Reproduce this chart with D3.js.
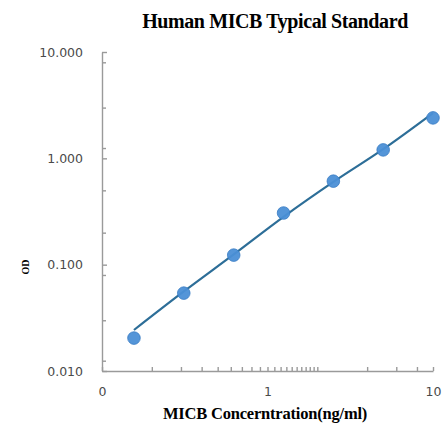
<!DOCTYPE html>
<html>
<head>
<meta charset="utf-8">
<script src="https://d3js.org/d3.v7.min.js"></script>
<style>
  body { margin: 0; background: #fff; }
  .tick text { font-family: "DejaVu Sans", sans-serif; font-size: 12.5px; fill: #4a4a4a; }
  .domain, .tick line { stroke: #9a9a9a; stroke-width: 1.4; }
</style>
</head>
<body>
<svg width="442" height="423"></svg>
<script>
// standard concentrations (ng/ml) and measured OD
var conc = [0.156, 0.312, 0.625, 1.25, 2.5, 5, 10];
var od = [0.0204, 0.054, 0.123, 0.306, 0.61, 1.2, 2.40];
// fitted curve
var fitConc = [0.156, 0.312, 0.625, 1.25, 2.5, 5, 10];
var fitOd = [0.0243, 0.056, 0.125, 0.282, 0.60, 1.22, 2.67];

var xTicks = [0.1, 1, 10];
var xTickLabels = ["0", "1", "10"];
var xMinor = [0.2, 0.3, 0.4, 0.5, 0.6, 0.7, 0.8, 0.9,
              1.1, 1.2, 1.3, 1.4, 1.5, 1.6, 1.7, 1.8, 1.9, 2, 4, 6, 8];
var yTicks = [0.01, 0.1, 1, 10];
var yTickLabels = ["0.010", "0.100", "1.000", "10.000"];
var yMinor = [8, 3, 1.25, 0.5, 0.2, 0.08, 0.03, 0.0125];

var svg = d3.select("svg");

var x = d3.scaleLog().domain([0.1, 10]).range([102, 433]);
var y = d3.scaleLog().domain([0.01, 10]).range([371, 52]);

// axes (ticks point inward)
svg.append("g")
    .attr("transform", "translate(0,371)")
    .call(d3.axisBottom(x).tickValues(xMinor).tickFormat("").tickSizeInner(-4).tickSizeOuter(0))
    .call(function(g){ g.select(".domain").remove(); });
svg.append("g")
    .attr("transform", "translate(0,371)")
    .call(d3.axisBottom(x).tickValues(xTicks)
        .tickFormat(function(d, i){ return xTickLabels[i]; })
        .tickSizeInner(-4).tickSizeOuter(0).tickPadding(16));

svg.append("g")
    .attr("transform", "translate(102,0)")
    .call(d3.axisLeft(y).tickValues(yMinor).tickFormat("").tickSizeInner(-4).tickSizeOuter(0))
    .call(function(g){ g.select(".domain").remove(); });
svg.append("g")
    .attr("transform", "translate(102,0)")
    .call(d3.axisLeft(y).tickValues(yTicks)
        .tickFormat(function(d, i){ return yTickLabels[i]; })
        .tickSizeInner(-5).tickSizeOuter(0).tickPadding(19));

// fitted curve
var line = d3.line()
    .x(function(d){ return x(d[0]); })
    .y(function(d){ return y(d[1]); })
    .curve(d3.curveMonotoneX);

svg.append("path")
    .datum(d3.zip(fitConc, fitOd))
    .attr("d", line)
    .attr("fill", "none")
    .attr("stroke", "#2d6e98")
    .attr("stroke-width", 2.2);

// standard points
svg.selectAll(".pt")
    .data(d3.zip(conc, od))
  .enter().append("circle")
    .attr("class", "pt")
    .attr("cx", function(d){ return x(d[0]); })
    .attr("cy", function(d){ return y(d[1]); })
    .attr("r", 6.3)
    .attr("fill", "#4b8fd6")
    .attr("fill-opacity", 0.95)
    .attr("stroke", "#3a7cc4")
    .attr("stroke-width", 0.8);

// titles
svg.append("text")
    .attr("x", 275).attr("y", 28)
    .attr("text-anchor", "middle")
    .style("font-family", "'Liberation Serif', serif")
    .style("font-weight", "bold")
    .style("font-size", "20px")
    .style("letter-spacing", "-0.4px")
    .text("Human MICB Typical Standard");

svg.append("text")
    .attr("x", 265).attr("y", 419)
    .attr("text-anchor", "middle")
    .style("font-family", "'Liberation Serif', serif")
    .style("font-weight", "bold")
    .style("font-size", "16.5px")
    .style("letter-spacing", "-0.2px")
    .text("MICB Concerntration(ng/ml)");

svg.append("text")
    .attr("transform", "translate(29,267) rotate(-90)")
    .attr("text-anchor", "middle")
    .style("font-family", "'Liberation Serif', serif")
    .style("font-weight", "bold")
    .style("font-size", "10px")
    .text("OD");
</script>
</body>
</html>
